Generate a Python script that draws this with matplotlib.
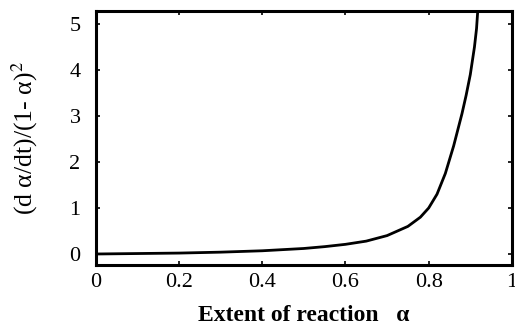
import numpy as np
import matplotlib
matplotlib.use("Agg")
import matplotlib.pyplot as plt

# values
alpha = [0.0, 0.1, 0.2, 0.3, 0.4, 0.5, 0.55, 0.6, 0.65, 0.7, 0.75, 0.78, 0.8,
         0.82, 0.84, 0.86, 0.87, 0.88, 0.89, 0.9, 0.91, 0.915, 0.918]
rate = [0.0, 0.01, 0.02, 0.04, 0.07, 0.12, 0.16, 0.21, 0.28, 0.40, 0.60, 0.80, 1.0,
        1.3, 1.75, 2.35, 2.7, 3.05, 3.45, 3.9, 4.5, 4.9, 5.3]
xticks = [0, 0.2, 0.4, 0.6, 0.8, 1]
xticklabels = ["0", "0.2", "0.4", "0.6", "0.8", "1"]
yticks = [0, 1, 2, 3, 4, 5]

plt.rcParams["font.family"] = ["Liberation Serif", "DejaVu Serif"]
plt.rcParams["mathtext.fontset"] = "stix"

fig = plt.figure(figsize=(5.15, 3.26), dpi=100)
ax = fig.add_axes([0.186, 0.187, 0.808, 0.779])
ax.plot(alpha, rate, color="black", lw=2.0)
ax.set_xlim(0, 1); ax.set_ylim(-0.24, 5.28)
ax.set_xticks(xticks); ax.set_xticklabels(xticklabels)
ax.set_yticks(yticks)
ax.tick_params(direction="in", length=3, width=1.2, top=True, right=True,
               labelsize=16)
ax.tick_params(axis="x", pad=6); ax.tick_params(axis="y", pad=11)
for s in ax.spines.values():
    s.set_linewidth(2.2)
ax.set_xlabel("Extent of reaction   α", fontsize=17, fontweight="bold", labelpad=9)
ax.set_ylabel(r"(d α/dt)/(1- α)$^{2}$", fontsize=18.5, labelpad=21)

fig.savefig("out.png", dpi=100)
